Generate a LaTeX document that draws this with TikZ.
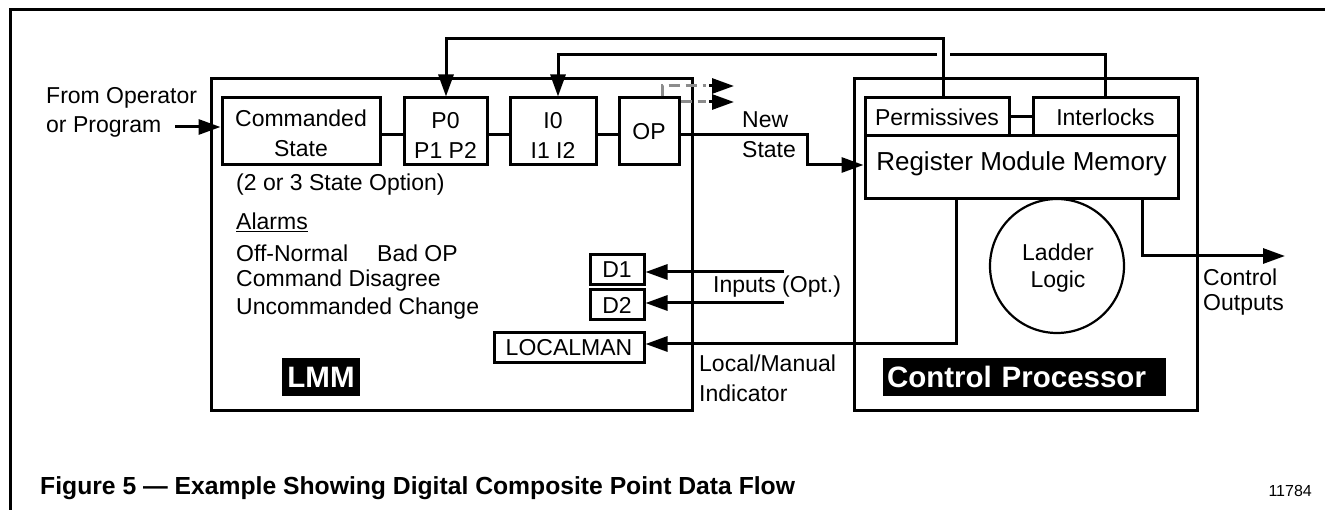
\documentclass[tikz,border=0pt]{standalone}
\usepackage{fontspec}
\setmainfont{Liberation Sans}
\usetikzlibrary{arrows.meta}
\tikzset{
  box/.style={draw, line width=3pt, rectangle, inner sep=0pt, align=center, font=\fontsize{23}{31}\selectfont},
  conn/.style={line width=3pt},
  arr/.style={conn, -{Triangle[length=22pt,width=15pt]}},
  lbl/.style={inner sep=0pt, anchor=west, font=\fontsize{23}{31}\selectfont},
  labbox/.style={fill=black, text=white, inner sep=0pt, font=\bfseries\fontsize{29.5}{30}\selectfont},
  dashedgrey/.style={line width=3pt, color=black!45, dash pattern=on 11pt off 6pt},
}
\begin{document}
\begin{tikzpicture}[x=1pt,y=-1pt]
\useasboundingbox (0,0) rectangle (1325,510);
\fill[white] (0,0) rectangle (1325,510);
% frame
\coordinate (fr1) at (1325,10);
\coordinate (fr2) at (10,10);
\coordinate (fr3) at (10,510);
\draw[conn] (fr1) -- (fr2) -- (fr3);

% main containers
\node[box, minimum width=481pt, minimum height=331pt] (lmm) at (451.5,244.5) {};
\node[box, minimum width=343pt, minimum height=331pt] (cp) at (1025.5,244.5) {};

% LMM internal boxes
\node[box, minimum width=158pt, minimum height=67pt] (cs) at (301,131.5) {};
\node[lbl, anchor=center] (cst1) at (301,118) {Commanded};
\node[lbl, anchor=center] (cst2) at (301,149) {State};
\node[box, minimum width=83pt, minimum height=67pt] (p) at (445.5,131.5) {};
\node[lbl, anchor=center] (pt1) at (445.5,121) {P0};
\node[lbl, anchor=center] (pt2) at (445.5,150) {P1 P2};
\node[box, minimum width=86pt, minimum height=67pt] (i) at (553,131.5) {};
\node[lbl, anchor=center] (it1) at (553,121) {I0};
\node[lbl, anchor=center] (it2) at (553,150) {I1 I2};
\node[box, minimum width=60pt, minimum height=67pt] (op) at (649,131.5) {OP};

\node[box, minimum width=54pt, minimum height=30pt] (d1) at (617,270) {D1};
\node[box, minimum width=54pt, minimum height=30pt] (d2) at (617,305) {D2};
\node[box, minimum width=150pt, minimum height=30pt] (lm) at (569,348) {LOCALMAN};

\node[labbox, minimum width=78pt, minimum height=38pt] (lmmlab) at (321,377) {LMM};
\node[labbox, minimum height=38pt, text width=275pt, inner xsep=4pt, align=left] (cplab) at (1024.5,377) {Control Processor};

% CP internal boxes
\node[box, minimum width=144pt, minimum height=38pt] (perm) at (937,117) {Permissives};
\node[box, minimum width=145pt, minimum height=38pt] (intl) at (1105.5,117) {Interlocks};
\node[box, minimum width=313pt, minimum height=63pt] (rmm) at (1021.5,167.5) {};
\node[lbl, anchor=center, font=\fontsize{26}{30}\selectfont] (rmmt) at (1021.5,164) {Register Module Memory};
\node[draw, circle, line width=2.2pt, minimum size=134pt, inner sep=0pt] (ladder) at (1057,266) {};
\node[lbl, anchor=center] (ladt1) at (1058,252) {Ladder};
\node[lbl, anchor=center] (ladt2) at (1058,282) {Logic};

% free texts
\node[lbl] (fo1) at (46,98) {From Operator};
\node[lbl] (fo2) at (46,127) {or Program};
\node[lbl] (opt) at (236,185) {(2 or 3 State Option)};
\node[lbl] (alarms) at (236,222) {\underline{Alarms}};
\node[lbl] (al1) at (236,253) {Off-Normal};
\node[lbl] (al1b) at (377,253) {Bad OP};
\node[lbl] (al2) at (236,281) {Command Disagree};
\node[lbl] (al3) at (236,309) {Uncommanded Change};
\node[lbl] (ns1) at (742,120) {New};
\node[lbl] (ns2) at (742,150) {State};
\node[lbl] (inp) at (713,287) {Inputs (Opt.)};
\node[lbl] (lmi1) at (699,363) {Local/Manual};
\node[lbl] (lmi2) at (699,393) {Indicator};
\node[lbl] (co1) at (1203,277) {Control};
\node[lbl] (co2) at (1203,305) {Outputs};
\node[inner sep=0pt, anchor=west, font=\bfseries\fontsize{24.7}{28}\selectfont] (cap) at (40,488) {Figure 5 — Example Showing Digital Composite Point Data Flow};
\node[inner sep=0pt, anchor=east, font=\fontsize{16}{20}\selectfont] (num) at (1312,491) {11784};

% connectors in LMM
\coordinate (fromop) at (175,127);
\draw[arr] (fromop) -- (cs.west |- fromop);
\draw[conn] (cs.east |- 0,135) -- (p.west |- 0,135);
\draw[conn] (p.east |- 0,135) -- (i.west |- 0,135);
\draw[conn] (i.east |- 0,135) -- (op.west |- 0,135);

% feedback from CP
\coordinate (f1a) at (943,39);
\coordinate (f1b) at (446,39);
\draw[arr] (perm.north -| f1a) -- (f1a) -- (f1b) -- (p.north -| f1b);
\coordinate (f2a) at (1105,55);
\coordinate (f2gap1) at (950,55);
\coordinate (f2gap2) at (937,55);
\coordinate (f2b) at (558,55);
\draw[conn] (intl.north -| f2a) -- (f2a) -- (f2gap1);
\draw[arr] (f2gap2) -- (f2b) -- (i.north -| f2b);
\draw[conn] (perm.east) -- (intl.west);

% OP new state
\coordinate (ns a) at (807,135);
\coordinate (ns b) at (807,165);
\draw[arr] (op.east |- ns a) -- (ns a) -- (ns b) -- (rmm.west |- ns b);

% grey dashed outputs
\coordinate (g1a) at (662,86);
\coordinate (g1b) at (706,86);
\coordinate (g2b) at (706,102);
\coordinate (t1a) at (710,86);
\coordinate (t1b) at (734,86);
\coordinate (t2a) at (710,102);
\coordinate (t2b) at (734,102);
\draw[dashedgrey] (op.north -| g1a) -- (g1a) -- (g1b);
\draw[dashedgrey] (op.east |- g2b) -- (g2b);
\draw[arr, shorten <=-1pt] (t1a) -- (t1b);
\draw[arr, shorten <=-1pt] (t2a) -- (t2b);

% inputs
\coordinate (in1) at (784,272);
\coordinate (in2) at (784,303);
\draw[arr] (in1) -- (d1.east |- in1);
\draw[arr] (in2) -- (d2.east |- in2);

% local/manual
\coordinate (lmc) at (956,344);
\draw[arr] (rmm.south -| lmc) -- (lmc) -- (lm.east |- lmc);

% control outputs
\coordinate (coa) at (1142,256);
\coordinate (cob) at (1285,256);
\draw[arr] (rmm.south -| coa) -- (coa) -- (cob);
\end{tikzpicture}
\end{document}
